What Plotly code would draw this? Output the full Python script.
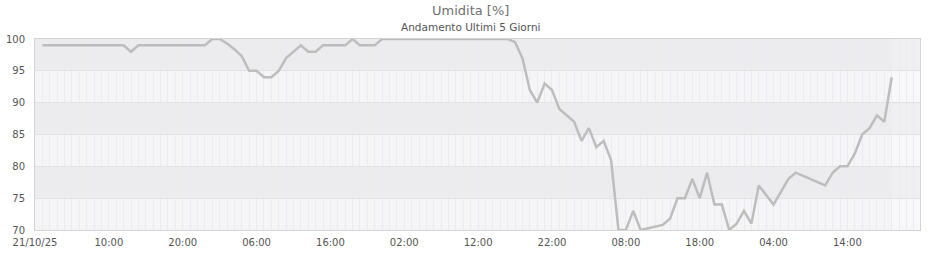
import pandas as pd
import plotly.graph_objects as go

# ---- data ----
start_time = "2025-10-21 01:00"
humidity = [
    99, 99, 99, 99, 99, 99, 99, 99, 99, 99, 99, 99,          # h1-12
    98,                                                      # h13
    99, 99, 99, 99, 99, 99, 99, 99, 99, 99,                  # h14-23
    100, 100,                                                # h24-25
    99.3, 98.4, 97.3, 95, 95, 94, 94, 95, 97, 98, 99, 98, 98,
    99, 99, 99, 99, 100, 99, 99, 99,                         # h26-46
    100, 100, 100, 100, 100, 100, 100, 100, 100,
    100, 100, 100, 100, 100, 100, 100, 100, 100,             # h47-64
    99.5, 97, 92, 90, 93, 92, 89, 88, 87, 84, 86, 83, 84, 81,
    70, 70, 73, 70, 70.3, 70.6, 70.8, 71.8, 75, 75, 78, 75,
    79, 74, 74, 70, 71, 73, 71, 77, 75.5, 74, 76, 78, 79,
    78.5, 78, 77.5, 77, 79, 80, 80, 82, 85, 86, 88, 87, 94,  # h65-116
]
tick_labels = ["21/10/25", "10:00", "20:00", "06:00", "16:00", "02:00",
               "12:00", "22:00", "08:00", "18:00", "04:00", "14:00"]
y_ticks = [70, 75, 80, 85, 90, 95, 100]

times = pd.date_range(start_time, periods=len(humidity), freq="h")
axis_start = pd.Timestamp("2025-10-21 00:00")
tick_vals = [axis_start + pd.Timedelta(hours=10 * i) for i in range(len(tick_labels))]
axis_end = axis_start + pd.Timedelta(hours=119.83)

FONT = "DejaVu Sans"

fig = go.Figure()
fig.add_trace(go.Scatter(
    x=times, y=humidity, mode="lines",
    line=dict(color="#bdbdbd", width=2.5),
    hoverinfo="skip", showlegend=False,
))

shapes = []
# alternating horizontal bands
for i in range(len(y_ticks) - 1):
    lo, hi = y_ticks[i], y_ticks[i + 1]
    col = "#f8f8f8" if i % 2 == 0 else "#efefef"
    shapes.append(dict(type="rect", xref="paper", yref="y", x0=0, x1=1,
                       y0=lo, y1=hi, fillcolor=col, line_width=0, layer="below"))
# faint shading over data range
shapes.append(dict(type="rect", xref="x", yref="paper", x0=axis_start, x1=times[-1],
                   y0=0, y1=1, fillcolor="rgba(0,0,0,0.012)", line_width=0,
                   layer="below"))

fig.update_layout(
    width=940, height=260,
    margin=dict(l=35, r=20, t=39, b=30, autoexpand=False),
    paper_bgcolor="white", plot_bgcolor="white",
    font=dict(family=FONT, size=10, color="#555555"),
    shapes=shapes,
    annotations=[
        dict(text="Umidita [%]", xref="paper", yref="paper", x=(470 - 35) / 885,
             y=(230 - 10.5) / 191, xanchor="center", yanchor="middle", showarrow=False,
             font=dict(family=FONT, size=13, color="#707070")),
        dict(text="Andamento Ultimi 5 Giorni", xref="paper", yref="paper",
             x=(470 - 35) / 885, y=(230 - 27) / 191, xanchor="center",
             yanchor="middle", showarrow=False,
             font=dict(family=FONT, size=10.5, color="#555555")),
    ],
    xaxis=dict(
        type="date", range=[axis_start, axis_end],
        tickvals=tick_vals, ticktext=tick_labels,
        showgrid=True, gridcolor="#ebebf8", gridwidth=1,
        minor=dict(dtick=3600000, showgrid=True, gridcolor="#ebebf8", gridwidth=1),
        showline=True, linecolor="#d4d4d4", linewidth=1, mirror=True,
        ticks="outside", ticklen=3, tickcolor="rgba(0,0,0,0)",
        zeroline=False, fixedrange=True, automargin=False,
        tickfont=dict(family=FONT, size=10, color="#555555"),
    ),
    yaxis=dict(
        range=[70, 100], tickvals=y_ticks,
        showgrid=True, gridcolor="#e2e2e2", gridwidth=1,
        showline=True, linecolor="#d4d4d4", linewidth=1, mirror=True,
        ticks="outside", ticklen=7, tickcolor="rgba(0,0,0,0)",
        zeroline=False, fixedrange=True, automargin=False,
        tickfont=dict(family=FONT, size=10, color="#555555"),
    ),
)

fig.write_html("out.html")
